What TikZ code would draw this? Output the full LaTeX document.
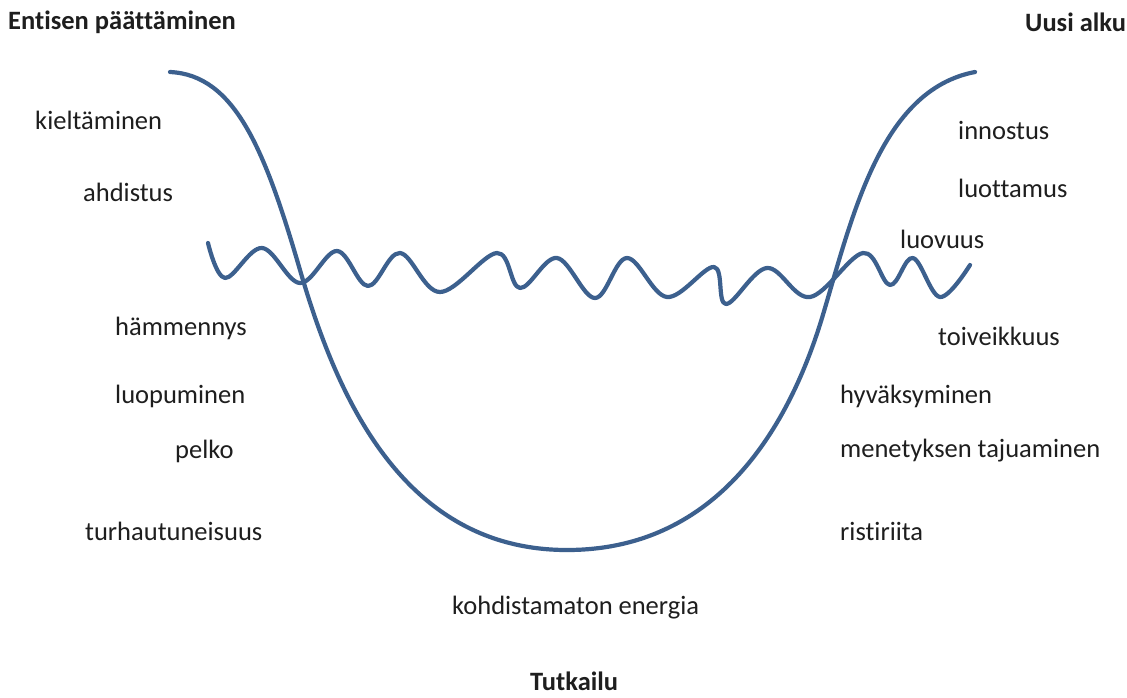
\documentclass[tikz,border=0pt]{standalone}
\usepackage{fontspec}
\setmainfont[Ligatures=NoCommon]{Carlito}
\definecolor{curveblue}{RGB}{60,96,142}
\definecolor{txt}{RGB}{30,30,30}
\begin{document}
\begin{tikzpicture}[x=1pt,y=-1pt,
  lbl/.style={anchor=west,inner sep=0pt,text=txt,font=\fontsize{26.5}{30}\selectfont},
  hdr/.style={anchor=west,inner sep=0pt,text=txt,font=\fontsize{26.5}{30}\selectfont\bfseries},
  curve/.style={draw=curveblue,line width=4.2pt,line cap=round,line join=round}]
\useasboundingbox[fill=white] (0,0) rectangle (1127,697);
% U curve
\coordinate (u0) at (170,72);
\coordinate (u1) at (300,270);
\coordinate (u2) at (567,550);
\coordinate (u3) at (822,318);
\coordinate (u4) at (975,72);
\draw[curve] (u0) .. controls (235,75) and (265,150) .. (u1)
  .. controls (335,390) and (400,550) .. (u2)
  .. controls (720,550) and (790,423) .. (u3)
  .. controls (852,218) and (880,90) .. (u4);
% wave
\draw[curve] plot[smooth,tension=0.6] coordinates{
 (208,243) (225,278) (262,248) (300,283) (337,251) (368,286) (400,253) (440,292)
 (497,253) (520,288) (557,258) (595,298) (627,258) (667,297) (714,267) (726,304)
 (767,268) (810,297) (863,253) (890,285) (913,258) (940,297) (970,265)};
% labels
\node[hdr] (h1) at (8,22) {Entisen päättäminen};
\node[hdr] (h2) at (1025,22) {Uusi alku};
\node[hdr] (h3) at (530,681) {Tutkailu};
\node[lbl] (l1) at (35,120) {kieltäminen};
\node[lbl] (l2) at (83,192) {ahdistus};
\node[lbl] (l3) at (115,328) {hämmennys};
\node[lbl] (l4) at (115,396) {luopuminen};
\node[lbl] (l5) at (175,451) {pelko};
\node[lbl] (l6) at (85,531) {turhautuneisuus};
\node[lbl] (m1) at (452,608) {kohdistamaton energia};
\node[lbl] (r1) at (958,130) {innostus};
\node[lbl] (r2) at (958,188) {luottamus};
\node[lbl] (r3) at (900,239) {luovuus};
\node[lbl] (r4) at (938,336) {toiveikkuus};
\node[lbl] (r5) at (840,396) {hyväksyminen};
\node[lbl] (r6) at (840,451) {menetyksen tajuaminen};
\node[lbl] (r7) at (840,531) {ristiriita};
\end{tikzpicture}
\end{document}
